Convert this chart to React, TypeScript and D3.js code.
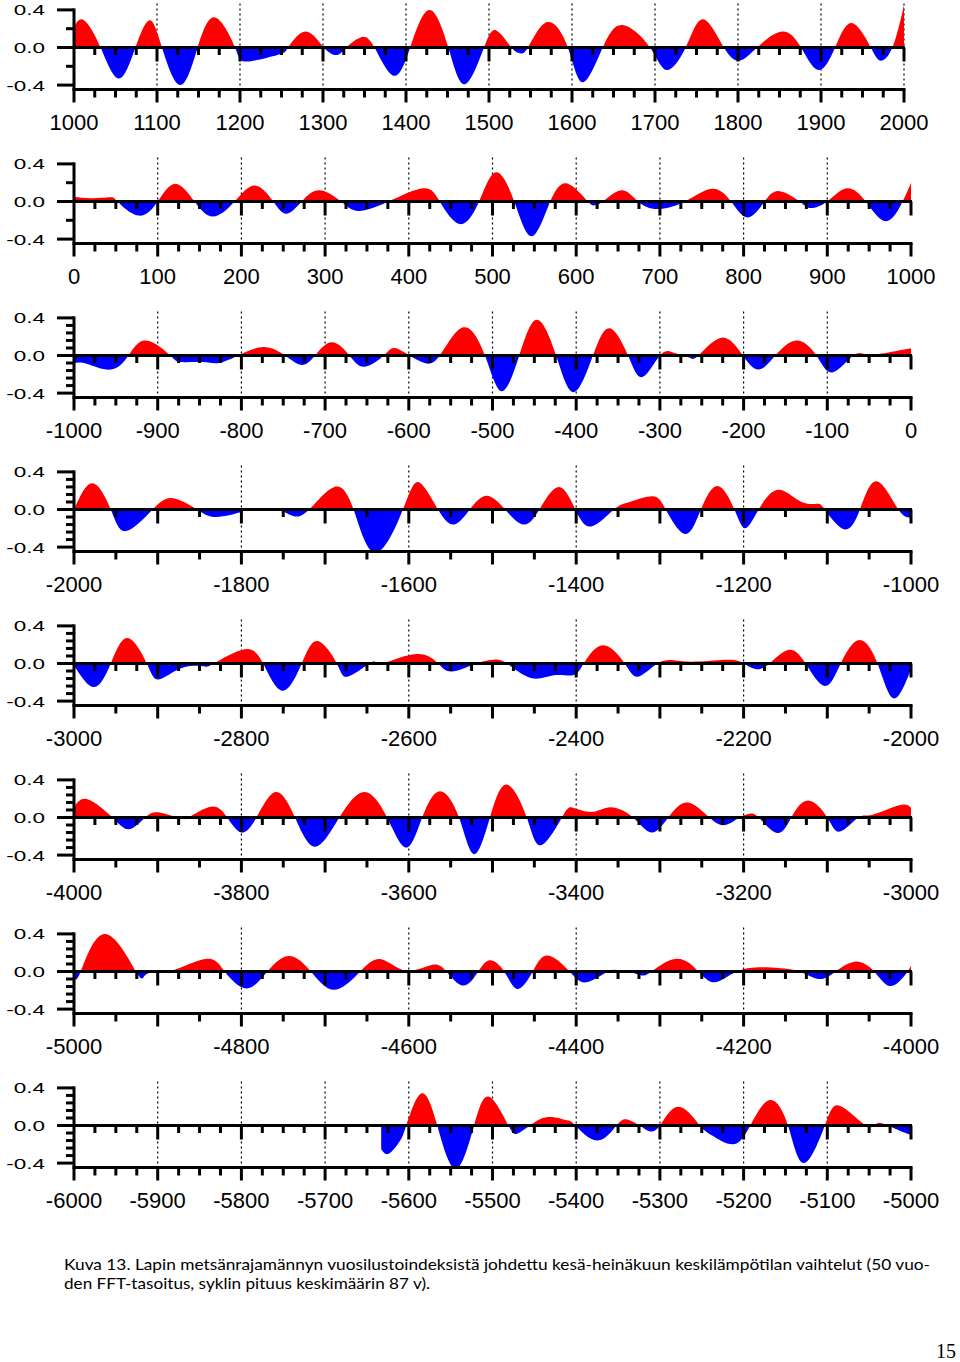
import * as d3 from 'd3'

// Panel 1: 1000–2000
const years1 = [1000, 1012, 1032, 1054, 1074, 1091, 1106, 1128, 1149, 1170, 1194, 1208, 1245, 1258, 1279, 1301, 1317, 1328, 1346, 1362, 1385, 1405, 1428, 1451, 1471, 1494, 1509, 1527, 1537, 1547, 1570, 1595, 1613, 1637, 1661, 1694, 1714, 1737, 1758, 1783, 1802, 1823, 1853, 1876, 1897, 1917, 1937, 1960, 1972, 1986, 2000]
const temps1 = [0.22, 0.29, 0, -0.33, 0, 0.29, 0, -0.4, 0, 0.32, 0, -0.15, -0.08, 0, 0.17, 0, -0.08, 0, 0.11, 0, -0.3, 0, 0.4, 0, -0.39, 0, 0.18, 0, -0.06, 0, 0.27, 0, -0.37, 0, 0.24, 0, -0.24, 0, 0.3, 0, -0.14, 0, 0.17, 0, -0.24, 0, 0.26, 0, -0.14, 0, 0.45]

// Panel 2: 0–1000
const years2 = [0, 20, 43, 52, 77, 100, 121, 144, 166, 192, 216, 238, 254, 272, 293, 319, 340, 376, 417, 437, 461, 484, 504, 526, 547, 569, 590, 614, 622, 632, 654, 674, 697, 730, 762, 785, 805, 825, 843, 867, 880, 900, 923, 946, 970, 990, 1000]
const temps2 = [0.05, 0.035, 0.045, 0, -0.15, 0, 0.19, 0, -0.16, 0, 0.17, 0, -0.13, 0, 0.12, 0, -0.1, 0, 0.14, 0, -0.24, 0, 0.31, 0, -0.37, 0, 0.19, 0, -0.04, 0, 0.12, 0, -0.08, 0, 0.135, 0, -0.17, 0, 0.11, 0, -0.07, 0, 0.14, 0, -0.21, 0, 0.2]

// Panel 3: -1000–0
const years3 = [-1000, -984, -956, -935, -914, -885, -872, -846, -827, -804, -774, -748, -728, -712, -692, -671, -653, -630, -617, -599, -581, -563, -535, -509, -489, -468, -447, -424, -403, -380, -360, -338, -321, -300, -285, -273, -264, -254, -226, -201, -182, -162, -137, -113, -94, -69, -54, -35, -5, 0]
const temps3 = [-0.08, -0.09, -0.15, 0, 0.16, 0, -0.07, -0.07, -0.08, 0, 0.09, 0, -0.1, 0, 0.14, 0, -0.12, 0, 0.08, 0, -0.08, 0, 0.3, 0, -0.38, 0, 0.38, 0, -0.39, 0, 0.29, 0, -0.23, 0, 0.035, 0, -0.025, 0, 0.19, 0, -0.15, 0, 0.16, 0, -0.18, 0, 0.01, 0.02, 0.07, 0.07]

// Panel 4: -2000–-1000
const years4 = [-2000, -1978, -1956, -1938, -1906, -1882, -1853, -1830, -1800, -1794, -1770, -1755, -1738, -1719, -1689, -1666, -1640, -1607, -1588, -1565, -1546, -1527, -1507, -1485, -1463, -1444, -1421, -1401, -1382, -1355, -1336, -1309, -1293, -1270, -1251, -1231, -1211, -1198, -1182, -1159, -1133, -1113, -1103, -1080, -1061, -1041, -1015, -1000]
const temps4 = [0, 0.28, 0, -0.23, 0, 0.12, 0, -0.08, -0.025, 0, 0.005, 0, -0.07, 0, 0.24, 0, -0.46, 0, 0.29, 0, -0.16, 0, 0.145, 0, -0.16, 0, 0.24, 0, -0.18, 0, 0.08, 0.14, 0, -0.26, 0, 0.25, 0, -0.2, 0, 0.21, 0.09, 0.06, 0, -0.21, 0, 0.3, 0, -0.08]

// Panel 5: -3000–-2000
const years5 = [-3000, -2976, -2956, -2936, -2913, -2899, -2872, -2846, -2833, -2797, -2774, -2751, -2728, -2709, -2686, -2673, -2647, -2640, -2630, -2591, -2565, -2548, -2519, -2499, -2483, -2454, -2427, -2404, -2391, -2368, -2342, -2326, -2303, -2283, -2257, -2218, -2200, -2185, -2169, -2146, -2126, -2103, -2084, -2062, -2040, -2021, -2000]
const temps5 = [-0.02, -0.25, 0, 0.27, 0, -0.17, -0.05, -0.03, 0, 0.15, 0, -0.29, 0, 0.24, 0, -0.14, 0, 0.01, 0, 0.1, 0, -0.085, 0, 0.04, 0, -0.155, -0.125, -0.125, 0, 0.195, 0, -0.14, 0, 0.035, 0.02, 0.04, 0, -0.06, 0, 0.145, 0, -0.24, 0, 0.25, 0, -0.37, -0.06]

// Panel 6: -4000–-3000
const years6 = [-4000, -3984, -3954, -3934, -3915, -3899, -3876, -3868, -3863, -3836, -3817, -3800, -3782, -3759, -3736, -3712, -3683, -3653, -3626, -3603, -3584, -3563, -3540, -3522, -3503, -3483, -3459, -3442, -3417, -3404, -3381, -3359, -3332, -3310, -3290, -3267, -3241, -3222, -3205, -3193, -3182, -3160, -3143, -3123, -3100, -3085, -3063, -3046, -3014, -3000]
const temps6 = [0.105, 0.195, 0, -0.125, 0, 0.055, 0, -0.01, 0, 0.115, 0, -0.16, 0, 0.27, 0, -0.31, 0, 0.27, 0, -0.32, 0, 0.28, 0, -0.39, 0, 0.35, 0, -0.295, 0, 0.105, 0.06, 0.11, 0, -0.16, 0, 0.16, 0, -0.08, 0, 0.04, 0, -0.165, 0, 0.18, 0, -0.15, 0, 0.03, 0.13, 0.105]

// Panel 7: -5000–-4000
const years7 = [-5000, -4992, -4963, -4926, -4915, -4899, -4879, -4841, -4820, -4794, -4769, -4743, -4717, -4689, -4658, -4633, -4604, -4573, -4555, -4535, -4517, -4503, -4486, -4470, -4452, -4434, -4408, -4388, -4362, -4349, -4337, -4323, -4310, -4280, -4254, -4234, -4208, -4179, -4156, -4133, -4110, -4090, -4067, -4044, -4024, -4004, -4000]
const temps7 = [-0.06, 0, 0.4, 0, -0.04, 0, 0.02, 0.135, 0, -0.18, 0, 0.165, 0, -0.195, 0, 0.13, 0.01, 0.07, 0, -0.15, 0, 0.12, 0, -0.185, 0, 0.17, 0, -0.115, 0, 0.01, 0, -0.04, 0, 0.135, 0, -0.115, 0, 0.045, 0.035, 0, -0.08, 0, 0.105, 0, -0.155, 0, 0.08]

// Panel 8: -6000–-5000 (series begins c. -5630)
const years8 = [-5633, -5624, -5611, -5603, -5585, -5566, -5544, -5522, -5504, -5481, -5470, -5455, -5434, -5411, -5401, -5375, -5352, -5339, -5324, -5313, -5300, -5278, -5252, -5237, -5212, -5192, -5169, -5147, -5128, -5103, -5085, -5054, -5041, -5028, -5005, -5000]
const temps8 = [-0.25, -0.3, -0.17, 0, 0.34, 0, -0.46, 0, 0.305, 0, -0.085, 0, 0.09, 0.055, 0, -0.16, 0, 0.065, 0, -0.06, 0, 0.2, 0, -0.11, -0.2, 0, 0.27, 0, -0.4, 0, 0.21, 0, 0.02, 0, -0.085, -0.09]

const yTickLabels = ['0.4', '0.0', '-0.4']
const yTickValues = [0.4, 0, -0.4]

const CAPTION_1 = 'Kuva 13. Lapin metsänrajamännyn vuosilustoindeksistä johdettu kesä-heinäkuun keskilämpötilan vaihtelut (50 vuo-'
const CAPTION_2 = 'den FFT-tasoitus, syklin pituus keskimäärin 87 v).'

const panels = [
  { years: years1, temps: temps1, start: 1000, end: 2000, xEnd: 904, labelStep: 100, tickStep: 25, axisStep: 25, gridStep: 100, gridAtEnd: true, yMinor: 0.2 },
  { years: years2, temps: temps2, start: 0, end: 1000, xEnd: 911, labelStep: 100, tickStep: 25, axisStep: 25, gridStep: 100, gridAtEnd: false, yMinor: 0.2 },
  { years: years3, temps: temps3, start: -1000, end: 0, xEnd: 911, labelStep: 100, tickStep: 25, axisStep: 25, gridStep: 100, gridAtEnd: false, yMinor: 0.08 },
  { years: years4, temps: temps4, start: -2000, end: -1000, xEnd: 911, labelStep: 200, tickStep: 50, axisStep: 50, gridStep: 200, gridAtEnd: false, yMinor: 0.08 },
  { years: years5, temps: temps5, start: -3000, end: -2000, xEnd: 911, labelStep: 200, tickStep: 25, axisStep: 50, gridStep: 200, gridAtEnd: false, yMinor: 0.08 },
  { years: years6, temps: temps6, start: -4000, end: -3000, xEnd: 911, labelStep: 200, tickStep: 25, axisStep: 50, gridStep: 200, gridAtEnd: false, yMinor: 0.08 },
  { years: years7, temps: temps7, start: -5000, end: -4000, xEnd: 911, labelStep: 200, tickStep: 25, axisStep: 50, gridStep: 200, gridAtEnd: false, yMinor: 0.08 },
  { years: years8, temps: temps8, start: -6000, end: -5000, xEnd: 911, labelStep: 100, tickStep: 25, axisStep: 25, gridStep: 100, gridAtEnd: false, yMinor: 0.08 },
]

const X0 = 74
const PANEL_GAP = 154
const ZERO_Y = 47.5
const HALF = 37.6 // px for 0.4

function steps(start: number, end: number, step: number) {
  const out: number[] = []
  for (let v = start; v <= end + 1e-9; v += step) out.push(Math.round(v * 1000) / 1000)
  return out
}

function Panel({ p, i }: { p: (typeof panels)[number]; i: number }) {
  const z = ZERO_Y + PANEL_GAP * i
  const yB = z + 42
  const x = d3.scaleLinear().domain([p.start, p.end]).range([X0, p.xEnd])
  const y = d3.scaleLinear().domain([0.4, -0.4]).range([z - HALF, z + HALF])

  const pts = p.years.map((yr, k) => [yr, p.temps[k]] as [number, number])
  const area = d3.area<[number, number]>()
    .x(d => x(d[0]))
    .y0(y(0))
    .y1(d => y(d[1]))
    .curve(d3.curveNatural)
  const d = area(pts) || ''

  const grid = steps(p.start, p.end, p.gridStep).filter(v => v !== p.start && (p.gridAtEnd || v !== p.end))
  const zeroTicks = steps(p.start, p.end, p.tickStep).filter(v => v !== p.start)
  const axisTicks = steps(p.start, p.end, p.axisStep)
  const labels = steps(p.start, p.end, p.labelStep)
  const yMinor = steps(-0.4, 0.4, p.yMinor).filter(v => Math.abs(Math.abs(v) - 0.4) > 1e-6 && Math.abs(v) > 1e-6)

  return (
    <g>
      <defs>
        <clipPath id={`above-${i}`}>
          <rect x={X0} y={z - 46} width={p.xEnd - X0} height={46} />
        </clipPath>
        <clipPath id={`below-${i}`}>
          <rect x={X0} y={z} width={p.xEnd - X0} height={yB - z} />
        </clipPath>
      </defs>

      {/* dotted verticals */}
      {grid.map(v => (
        <line key={`g${v}`} x1={x(v)} x2={x(v)} y1={z - 44} y2={yB}
          stroke="#000" strokeWidth={1.2} strokeDasharray="2,3" />
      ))}

      <path d={d} fill="#ff0000" clipPath={`url(#above-${i})`} />
      <path d={d} fill="#0000ff" clipPath={`url(#below-${i})`} />

      {/* zero line with ticks */}
      <line x1={X0} x2={p.xEnd + 1} y1={z} y2={z} stroke="#000" strokeWidth={3} />
      {zeroTicks.map(v => (
        <line key={`z${v}`} x1={x(v)} x2={x(v)} y1={z}
          y2={z + (v % 100 === 0 ? 14 : 7.5)} stroke="#000" strokeWidth={3} />
      ))}

      {/* bottom axis */}
      <line x1={X0 - 1.5} x2={p.xEnd + 1.5} y1={yB} y2={yB} stroke="#000" strokeWidth={3} />
      {axisTicks.map(v => (
        <line key={`a${v}`} x1={x(v)} x2={x(v)} y1={yB}
          y2={yB + (v % 100 === 0 ? 13 : 8)} stroke="#000" strokeWidth={3} />
      ))}
      {labels.map(v => (
        <text key={`l${v}`} x={x(v)} y={z + 82.5} textAnchor="middle"
          fontFamily="'Liberation Sans', Arial, sans-serif" fontSize={22} fill="#000">
          {String(v)}
        </text>
      ))}

      {/* y axis */}
      <line x1={X0} x2={X0} y1={z - HALF - 1.5} y2={yB} stroke="#000" strokeWidth={3} />
      {yTickValues.map(v => (
        <line key={`ym${v}`} x1={X0 - 17} x2={X0} y1={y(v)} y2={y(v)} stroke="#000" strokeWidth={3} />
      ))}
      {yMinor.map(v => (
        <line key={`yn${v}`} x1={X0 - 8} x2={X0} y1={y(v)} y2={y(v)} stroke="#000" strokeWidth={3} />
      ))}
      {yTickValues.map((v, k) => (
        <g key={`yl${v}`} transform={`translate(45, ${y(v) + 5.5}) scale(1.45, 1)`}>
          <text x={0} y={0} textAnchor="end"
            fontFamily="'Liberation Sans', Arial, sans-serif" fontSize={15.5} fill="#000">
            {yTickLabels[k]}
          </text>
        </g>
      ))}
    </g>
  )
}

export default function App() {
  return (
    <svg width={960} height={1362} style={{ position: 'absolute', left: 0, top: 0, background: '#fff' }}>
      <rect width={960} height={1362} fill="#fff" />
      {panels.map((p, i) => <Panel key={i} p={p} i={i} />)}

      <text x={64} y={1270} fontFamily="Lato, 'Open Sans', sans-serif" fontSize={16}
        textLength={866} lengthAdjust="spacingAndGlyphs" fill="#000">
        {CAPTION_1}
      </text>
      <text x={64} y={1289} fontFamily="Lato, 'Open Sans', sans-serif" fontSize={16}
        textLength={366} lengthAdjust="spacingAndGlyphs" fill="#000">
        {CAPTION_2}
      </text>
      <text x={956} y={1358} textAnchor="end" fontFamily="'Liberation Serif', 'Times New Roman', serif"
        fontSize={20} fill="#000">
        15
      </text>
    </svg>
  )
}
